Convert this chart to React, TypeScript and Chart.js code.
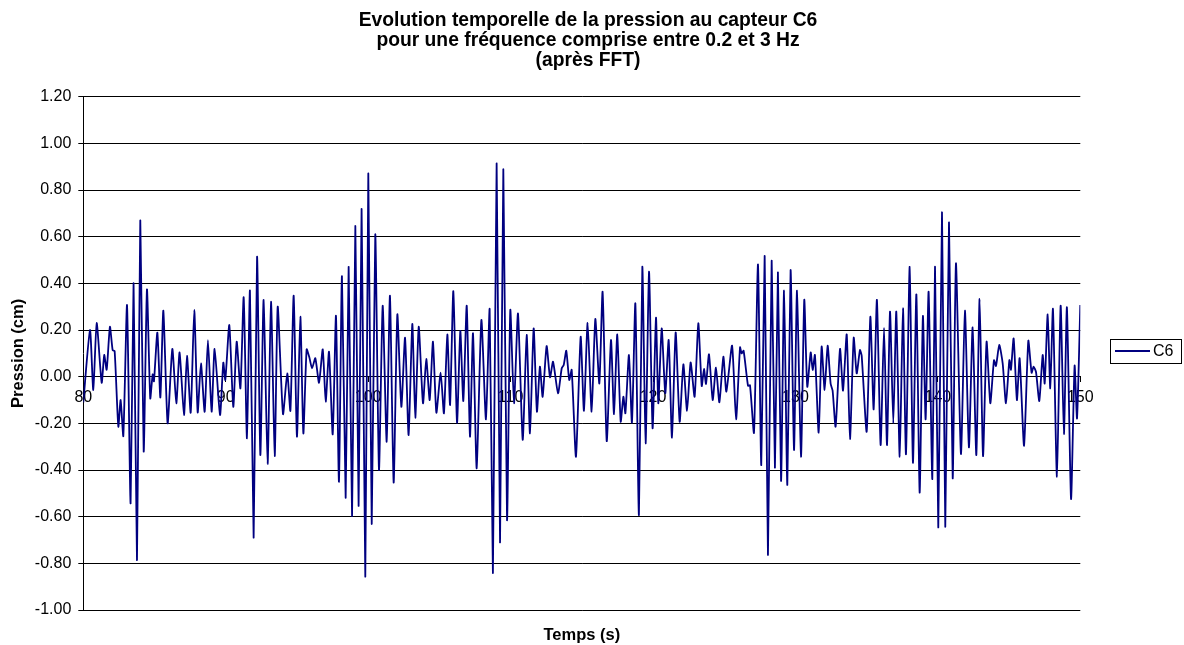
import React, { useEffect, useRef } from 'react';
import { Chart, registerables } from 'chart.js';

Chart.register(...registerables);

const FONT = '"Liberation Sans", Arial, Helvetica, sans-serif';

const titleLines = [
  'Evolution temporelle de la pression au capteur C6',
  'pour une fréquence comprise entre 0.2 et 3 Hz',
  '(après FFT)',
];
const xAxisTitle = 'Temps (s)';
const yAxisTitle = 'Pression (cm)';
const seriesName = 'C6';

const xMin = 80;
const xMax = 150;
const xStep = 10;
const yMin = -1.0;
const yMax = 1.2;
const yStep = 0.2;

// time (s)
const temps = [
  80.0, 80.47, 80.7, 80.94, 81.29, 81.47, 81.64, 81.87, 82.06, 82.2, 82.46, 82.62, 82.81, 83.07, 83.32, 83.53, 83.77,
  84.0, 84.24, 84.47, 84.7, 84.87, 84.96, 85.2, 85.41, 85.62, 85.92, 86.25, 86.53, 86.76, 87.07, 87.28, 87.54, 87.79,
  88.03, 88.26, 88.52, 88.75, 89.01, 89.22, 89.6, 89.83, 89.97, 90.25, 90.53, 90.77, 91.03, 91.26, 91.49, 91.7, 91.96,
  92.2, 92.43, 92.66, 92.94, 93.18, 93.44, 93.65, 94.02, 94.32, 94.54, 94.77, 95.0, 95.24, 95.45, 95.68, 95.87, 96.06,
  96.29, 96.55, 96.81, 97.02, 97.25, 97.51, 97.74, 97.95, 98.16, 98.42, 98.63, 98.87, 99.1, 99.33, 99.54, 99.8, 100.01,
  100.25, 100.5, 100.76, 101.02, 101.3, 101.53, 101.79, 102.05, 102.33, 102.59, 102.84, 103.1, 103.31, 103.55, 103.85,
  104.08, 104.32, 104.55, 104.79, 105.09, 105.32, 105.56, 105.75, 105.98, 106.24, 106.47, 106.68, 106.92, 107.15,
  107.36, 107.62, 107.95, 108.27, 108.53, 108.76, 109.02, 109.26, 109.49, 109.75, 109.98, 110.24, 110.52, 110.85,
  111.13, 111.36, 111.62, 111.85, 112.06, 112.25, 112.53, 112.77, 112.98, 113.33, 113.59, 113.73, 113.91, 114.12,
  114.29, 114.59, 114.92, 115.15, 115.41, 115.69, 115.95, 116.23, 116.46, 116.75, 117.05, 117.26, 117.49, 117.73,
  117.92, 118.06, 118.31, 118.52, 118.76, 119.01, 119.25, 119.48, 119.72, 119.97, 120.21, 120.37, 120.61, 120.86,
  121.1, 121.33, 121.59, 121.87, 122.13, 122.39, 122.64, 122.92, 123.18, 123.42, 123.58, 123.72, 123.93, 124.19,
  124.42, 124.66, 124.94, 125.15, 125.55, 125.83, 126.11, 126.22, 126.36, 126.67, 126.81, 127.09, 127.37, 127.6,
  127.84, 128.07, 128.33, 128.56, 128.77, 128.99, 129.2, 129.43, 129.66, 129.9, 130.11, 130.39, 130.62, 130.83, 131.07,
  131.21, 131.37, 131.63, 131.84, 132.05, 132.26, 132.47, 132.61, 132.82, 133.13, 133.34, 133.6, 133.83, 134.09,
  134.3, 134.53, 134.65, 135.0, 135.26, 135.49, 135.72, 135.98, 136.22, 136.43, 136.64, 136.87, 137.08, 137.32,
  137.55, 137.76, 138.02, 138.25, 138.49, 138.72, 138.95, 139.14, 139.35, 139.61, 139.8, 140.03, 140.29, 140.52,
  140.78, 141.04, 141.27, 141.62, 141.9, 142.18, 142.44, 142.7, 142.93, 143.17, 143.42, 143.68, 143.94, 144.08,
  144.31, 144.55, 144.78, 145.02, 145.13, 145.32, 145.55, 145.74, 146.05, 146.35, 146.58, 146.72, 146.89, 147.12,
  147.36, 147.5, 147.71, 147.89, 148.08, 148.36, 148.62, 148.85, 149.06, 149.35, 149.6, 149.77, 150.0,
];

// pressure (cm), sensor C6
const pressionC6 = [
  -0.11, 0.2, -0.057, 0.23, -0.026, 0.093, 0.03, 0.214, 0.114, 0.11, -0.214, -0.1, -0.254, 0.307, -0.543, 0.4, -0.786,
  0.669, -0.321, 0.374, -0.093, 0.01, -0.02, 0.189, -0.089, 0.283, -0.2, 0.119, -0.114, 0.104, -0.164, 0.089, -0.154, 0.286,
  -0.153, 0.057, -0.15, 0.157, -0.15, 0.119, -0.164, 0.06, -0.014, 0.221, -0.129, 0.15, -0.05, 0.34, -0.264, 0.369, -0.69,
  0.514, -0.336, 0.329, -0.374, 0.321, -0.34, 0.3, -0.16, 0.014, -0.146, 0.347, -0.257, 0.257, -0.243, 0.117, 0.083, 0.036,
  0.079, -0.026, 0.117, -0.107, 0.107, -0.247, 0.261, -0.45, 0.431, -0.519, 0.471, -0.597, 0.646, -0.554, 0.719, -0.857, 0.871,
  -0.631, 0.61, -0.4, 0.304, -0.279, 0.347, -0.454, 0.267, -0.129, 0.167, -0.25, 0.226, -0.176, 0.214, -0.114,
  0.076, -0.1, 0.15, -0.154, 0.017, -0.157, 0.181, -0.121, 0.367, -0.197, 0.196, -0.104, 0.304, -0.257,
  0.186, -0.393, 0.243, -0.183, 0.289, -0.84, 0.914, -0.71, 0.889, -0.614, 0.286, -0.114, 0.271, -0.271,
  0.179, -0.243, 0.207, -0.15, 0.043, -0.086, 0.131, -0.003, 0.064, -0.071, 0.036, 0.05, 0.111, -0.014,
  0.029, -0.343, 0.171, -0.146, 0.231, -0.15, 0.247, -0.029, 0.364, -0.276, 0.157, -0.16, 0.181, -0.193,
  -0.086, -0.157, 0.093, -0.197, 0.314, -0.593, 0.471, -0.286, 0.45, -0.221, 0.253, -0.114, 0.207, -0.071,
  0.157, -0.261, 0.19, -0.193, 0.053, -0.146, 0.061, -0.086, 0.229, -0.04, 0.033, -0.031, 0.096, -0.1,
  0.039, -0.11, 0.086, -0.064, 0.133, -0.183, 0.126, 0.1, 0.111, -0.039, -0.037, -0.24, 0.481, -0.379,
  0.517, -0.764, 0.497, -0.39, 0.447, -0.447, 0.369, -0.464, 0.457, -0.314, 0.369, -0.343, 0.329, -0.043, 0.104,
  0.029, 0.093, -0.24, 0.129, -0.057, 0.133, -0.03, -0.06, -0.214, 0.119, -0.06, 0.181, -0.267, 0.167,
  0.014, 0.114, 0.09, -0.236, 0.257, -0.14, 0.329, -0.293, 0.21, -0.293, 0.279, -0.2, 0.279, -0.343,
  0.293, -0.333, 0.471, -0.369, 0.353, -0.497, 0.26, -0.183, 0.364, -0.439, 0.471, -0.646, 0.704, -0.643,
  0.661, -0.436, 0.486, -0.331, 0.283, -0.303, 0.211, -0.336, 0.333, -0.34, 0.15, -0.114, 0.071, 0.046,
  0.136, 0.057, -0.114, 0.071, 0.03, 0.164, -0.1, 0.079, -0.296, 0.154, 0.017, 0.043, 0.02, -0.104,
  0.093, -0.029, 0.267, -0.05, 0.29, -0.429, 0.304, -0.246, 0.297, -0.524, 0.047, -0.179, 0.307,
];

const LINE_COLOR = '#000080';

const boxedLegend = {
  id: 'boxedLegend',
  afterDraw(chart: any) {
    const { ctx, chartArea } = chart;
    const left = Math.round(chartArea.right + 30);
    const cy = Math.round((chartArea.top + chartArea.bottom) / 2 - 2);
    const w = 71;
    const h = 24;
    ctx.save();
    ctx.strokeStyle = '#000';
    ctx.lineWidth = 1;
    ctx.strokeRect(left + 0.5, cy - h / 2 + 0.5, w, h);
    ctx.strokeStyle = LINE_COLOR;
    ctx.lineWidth = 1.8;
    ctx.beginPath();
    ctx.moveTo(left + 5, cy);
    ctx.lineTo(left + 40, cy);
    ctx.stroke();
    ctx.fillStyle = '#000';
    ctx.font = `16px ${FONT}`;
    ctx.textBaseline = 'middle';
    ctx.textAlign = 'left';
    ctx.fillText(seriesName, left + 43, cy + 1);
    ctx.restore();
  },
};

export default function App() {
  const ref = useRef<HTMLCanvasElement>(null);

  useEffect(() => {
    if (!ref.current) return;
    const chart = new Chart(ref.current, {
      type: 'line',
      data: {
        datasets: [
          {
            label: seriesName,
            data: temps.map((t, i) => ({ x: t, y: pressionC6[i] })),
            borderColor: LINE_COLOR,
            backgroundColor: LINE_COLOR,
            borderWidth: 1.8,
            pointRadius: 0,
            tension: 0.2,
            fill: false,
          },
        ],
      },
      options: {
        animation: false,
        responsive: true,
        maintainAspectRatio: false,
        layout: { padding: { left: 0, right: 8, top: 0, bottom: 0 } },
        plugins: {
          legend: { display: false },
          tooltip: { enabled: false },
          title: {
            display: true,
            text: titleLines,
            color: '#000',
            font: { family: FONT, size: 19.3, weight: 'bold', lineHeight: 20 / 19.3 },
            padding: { top: 11, bottom: 25.7 },
          },
        },
        scales: {
          x: {
            type: 'linear',
            position: { y: 0 },
            min: xMin,
            max: xMax,
            ticks: {
              stepSize: xStep,
              color: '#000',
              font: { family: FONT, size: 16 },
              padding: 6.5,
              maxRotation: 0,
              autoSkip: false,
            },
            grid: { drawOnChartArea: false, drawTicks: true, tickLength: 5, color: '#000' },
            border: { display: true, color: '#000', width: 1 },
          },
          x2: {
            type: 'linear',
            position: 'bottom',
            min: xMin,
            max: xMax,
            ticks: { display: false },
            grid: { display: false },
            border: { display: false },
            title: {
              display: true,
              text: xAxisTitle,
              color: '#000',
              font: { family: FONT, size: 16.5, weight: 'bold' },
              padding: { top: 0, bottom: 0 },
            },
            afterFit(scale: any) {
              scale.height = 35;
            },
          },
          y: {
            type: 'linear',
            position: 'left',
            min: yMin,
            max: yMax,
            ticks: {
              stepSize: yStep,
              color: '#000',
              font: { family: FONT, size: 16 },
              padding: 7,
              callback: (v: any) => Number(v).toFixed(2),
            },
            grid: { color: '#000', lineWidth: 1, tickLength: 5 },
            border: { display: true, color: '#000', width: 1 },
            title: {
              display: true,
              text: yAxisTitle,
              color: '#000',
              font: { family: FONT, size: 16.5, weight: 'bold' },
              padding: { top: 8.6, bottom: 0 },
            },
            afterFit(scale: any) {
              scale.width = 83.3;
            },
          },
          y2: {
            type: 'linear',
            position: 'right',
            ticks: { display: false },
            grid: { display: false },
            border: { display: false },
            afterFit(scale: any) {
              scale.width = 95.7;
            },
          },
        },
      } as any,
      plugins: [boxedLegend],
    });
    return () => chart.destroy();
  }, []);

  return (
    <div style={{ position: 'fixed', left: 0, top: 0, width: 1184, height: 645, background: '#fff' }}>
      <canvas ref={ref} />
    </div>
  );
}
